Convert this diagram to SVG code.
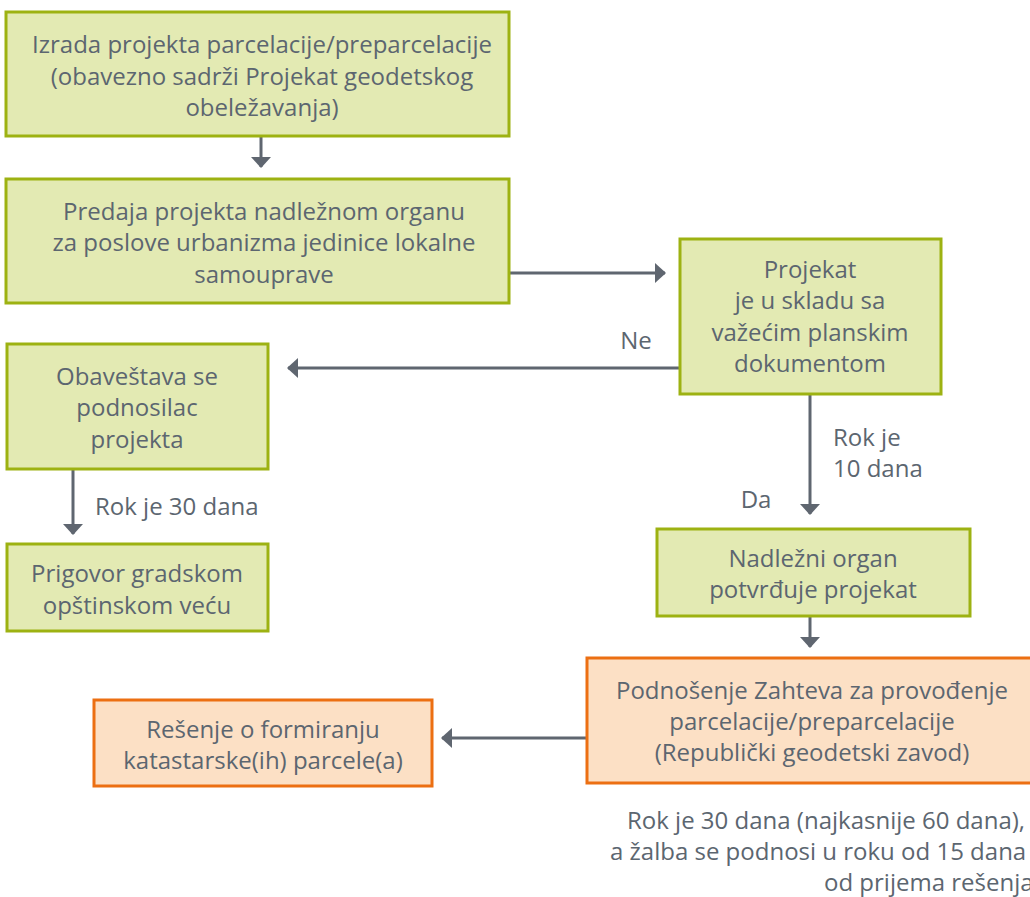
<svg xmlns="http://www.w3.org/2000/svg" width="1030" height="897" viewBox="0 0 1030 897">
<defs>
<style>
.g{fill:#e3eab3;stroke:#9db212;stroke-width:3}
.o{fill:#fce0c5;stroke:#ec6f12;stroke-width:3}
text{font-family:"Open Sans",Lato,sans-serif;font-size:24px;fill:#5c6670;text-anchor:middle}
.c{stroke:#5f6670;stroke-width:3;fill:none}
.s{text-anchor:start}
</style>
<marker id="ah" markerWidth="11" markerHeight="20" refX="10" refY="10" orient="auto" markerUnits="userSpaceOnUse" viewBox="0 0 11 20"><path d="M0,0 L11,10 L0,20 Z" fill="#5f6670"/></marker>
</defs>
<rect width="1030" height="897" fill="#fff"/>
<g id="connectors">
<line class="c" x1="261" y1="137" x2="261" y2="167" marker-end="url(#ah)"/>
<line class="c" x1="509" y1="273" x2="665" y2="273" marker-end="url(#ah)"/>
<line class="c" x1="680" y1="368" x2="288" y2="368" marker-end="url(#ah)"/>
<line class="c" x1="810" y1="394" x2="810" y2="514" marker-end="url(#ah)"/>
<line class="c" x1="810" y1="617" x2="810" y2="647" marker-end="url(#ah)"/>
<line class="c" x1="73" y1="469" x2="73" y2="534" marker-end="url(#ah)"/>
<line class="c" x1="586" y1="738" x2="442" y2="738" marker-end="url(#ah)"/>
<text x="636" y="349">Ne</text>
<text class="s" x="833" y="446">Rok je</text>
<text class="s" x="833" y="477">10 dana</text>
<text x="756" y="508">Da</text>
<text class="s" x="95" y="515">Rok je 30 dana</text>
</g>
<g id="n1"><rect class="g" x="6" y="12" width="503" height="124"/>
<text x="262" y="53">Izrada projekta parcelacije/preparcelacije</text>
<text x="262" y="85">(obavezno sadrži Projekat geodetskog</text>
<text x="262" y="116">obeležavanja)</text></g>
<g id="n2"><rect class="g" x="6" y="179" width="503" height="124"/>
<text x="264" y="220">Predaja projekta nadležnom organu</text>
<text x="264" y="251">za poslove urbanizma jedinice lokalne</text>
<text x="264" y="283">samouprave</text></g>
<g id="n3"><rect class="g" x="680" y="239" width="261" height="155"/>
<text x="810" y="278">Projekat</text>
<text x="810" y="309">je u skladu sa</text>
<text x="810" y="341">važećim planskim</text>
<text x="810" y="372">dokumentom</text></g>
<g id="n4"><rect class="g" x="7" y="344" width="261" height="125"/>
<text x="137" y="385">Obaveštava se</text>
<text x="137" y="416">podnosilac</text>
<text x="137" y="448">projekta</text></g>
<g id="n5"><rect class="g" x="7" y="544" width="261" height="87"/>
<text x="137" y="582">Prigovor gradskom</text>
<text x="137" y="614">opštinskom veću</text></g>
<g id="n6"><rect class="g" x="657" y="529" width="313" height="87"/>
<text x="813" y="567">Nadležni organ</text>
<text x="813" y="598">potvrđuje projekat</text></g>
<g id="n7"><rect class="o" x="587" y="658" width="460" height="125"/>
<text x="812" y="699">Podnošenje Zahteva za provođenje</text>
<text x="812" y="730">parcelacije/preparcelacije</text>
<text x="812" y="761">(Republički geodetski zavod)</text></g>
<g id="n8"><rect class="o" x="94" y="700" width="338" height="86"/>
<text x="263" y="738">Rešenje o formiranju</text>
<text x="263" y="769">katastarske(ih) parcele(a)</text></g>
<g id="note">
<text class="s" x="627" y="829">Rok je 30 dana (najkasnije 60 dana),</text>
<text class="s" x="610" y="860">a žalba se podnosi u roku od 15 dana</text>
<text class="s" x="824" y="891">od prijema rešenja</text></g>
</svg>
